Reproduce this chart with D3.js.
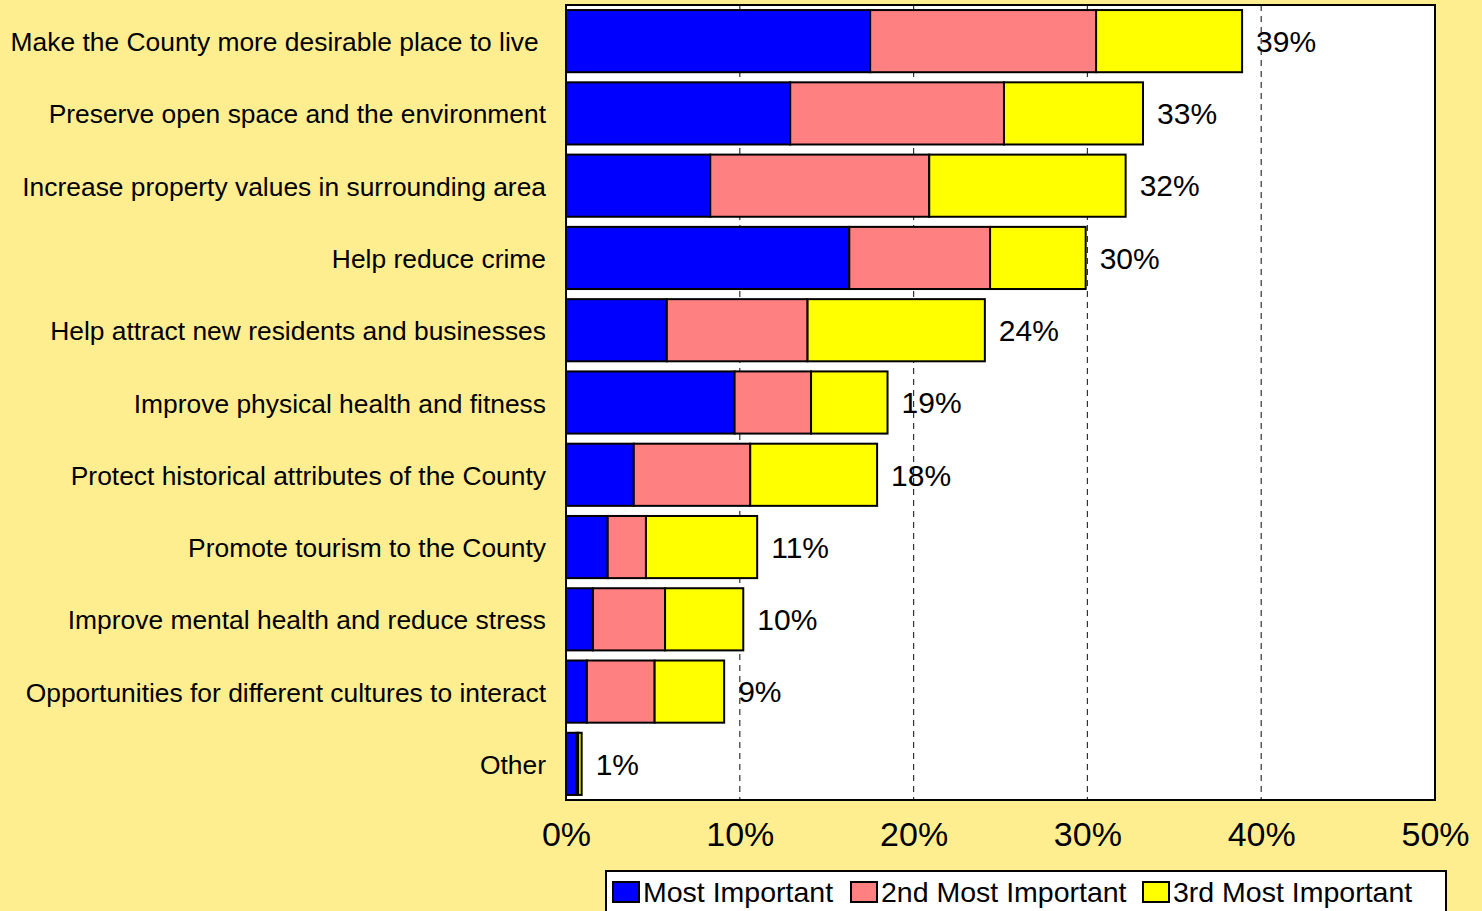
<!DOCTYPE html>
<html><head><meta charset="utf-8">
<script src="https://cdn.jsdelivr.net/npm/d3@7"></script>
<style>
html,body{margin:0;padding:0;background:#FFEE90;}
svg{display:block;font-family:Arial,"Liberation Sans",sans-serif;}
</style></head>
<body>
<svg id="chart" width="1482" height="911"></svg>
<script>
const categories = [
  "Make the County more desirable place to live ",
  "Preserve open space and the environment",
  "Increase property values in surrounding area",
  "Help reduce crime",
  "Help attract new residents and businesses",
  "Improve physical health and fitness",
  "Protect historical attributes of the County",
  "Promote tourism to the County",
  "Improve mental health and reduce stress",
  "Opportunities for different cultures to interact",
  "Other"
];
const mostImportant   = [17.5, 12.9, 8.3, 16.3, 5.8, 9.7, 3.9, 2.4, 1.55, 1.2, 0.6];
const secondImportant = [13.0, 12.3, 12.6, 8.1, 8.1, 4.4, 6.7, 2.2, 4.15, 3.9, 0.1];
const thirdImportant  = [8.4, 8.0, 11.3, 5.5, 10.2, 4.4, 7.3, 6.4, 4.5, 4.0, 0.2];
const totalLabels = ["39%","33%","32%","30%","24%","19%","18%","11%","10%","9%","1%"];
const seriesNames = ["Most Important","2nd Most Important","3rd Most Important"];
const seriesColors = ["#0000FF","#FF8080","#FFFF00"];
const xTicks = [0,10,20,30,40,50];

const svg = d3.select("#chart");
const plot = {left:566, right:1435, top:5, bottom:800};

const x = d3.scaleLinear().domain([0,50]).range([plot.left, plot.right]);
const y = d3.scaleBand().domain(categories).range([plot.top, plot.bottom])
  .paddingInner(0.14).paddingOuter(0.07);
const color = d3.scaleOrdinal().domain(seriesNames).range(seriesColors);

// plot background
svg.append("rect").attr("x",plot.left).attr("y",plot.top)
  .attr("width",plot.right-plot.left).attr("height",plot.bottom-plot.top)
  .attr("fill","#fff");

// gridlines
svg.append("g").selectAll("line").data(xTicks.filter(t=>t>0&&t<50)).join("line")
  .attr("x1",d=>x(d)).attr("x2",d=>x(d))
  .attr("y1",plot.top).attr("y2",plot.bottom)
  .attr("stroke","#333").attr("stroke-width",1.2).attr("stroke-dasharray","6,5");

// stacked data
const rows = categories.map((c,i)=>({cat:c, "Most Important":mostImportant[i],
  "2nd Most Important":secondImportant[i], "3rd Most Important":thirdImportant[i]}));
const stack = d3.stack().keys(seriesNames)(rows);

svg.append("g").selectAll("g").data(stack).join("g")
  .attr("fill",d=>color(d.key))
  .selectAll("rect").data(d=>d).join("rect")
  .attr("x",d=>x(d[0])).attr("width",d=>x(d[1])-x(d[0]))
  .attr("y",d=>y(d.data.cat)).attr("height",y.bandwidth())
  .attr("stroke","#000").attr("stroke-width",2);

// total labels
svg.append("g").selectAll("text").data(categories).join("text")
  .attr("x",(d,i)=>x(mostImportant[i]+secondImportant[i]+thirdImportant[i])+14)
  .attr("y",d=>y(d)+y.bandwidth()/2)
  .attr("dy","0.36em")
  .attr("font-size",30).attr("fill","#000")
  .text((d,i)=>totalLabels[i]);

// plot border
svg.append("rect").attr("x",plot.left).attr("y",plot.top)
  .attr("width",plot.right-plot.left).attr("height",plot.bottom-plot.top)
  .attr("fill","none").attr("stroke","#000").attr("stroke-width",2);

// y axis labels
const yAxis = d3.axisLeft(y).tickSize(0).tickPadding(20);
const yg = svg.append("g").attr("transform",`translate(${plot.left},0)`).call(yAxis);
yg.select(".domain").remove();
yg.selectAll("text").attr("font-size",26.4).attr("font-family","Arial,'Liberation Sans',sans-serif")
  .attr("fill","#000").attr("dy","0.38em").style("white-space","pre");

// x axis labels
const xAxis = d3.axisBottom(x).tickValues(xTicks).tickFormat(d=>d+"%").tickSize(0).tickPadding(22);
const xg = svg.append("g").attr("transform",`translate(0,${plot.bottom})`).call(xAxis);
xg.select(".domain").remove();
xg.selectAll("text").attr("font-size",34).attr("font-family","Arial,'Liberation Sans',sans-serif").attr("fill","#000");

// legend
const leg = svg.append("g");
leg.append("rect").attr("x",606).attr("y",871).attr("width",840).attr("height",60)
  .attr("fill","#fff").attr("stroke","#000").attr("stroke-width",2);
const legX = [613, 851, 1143];
const items = leg.selectAll("g.item").data(seriesNames).join("g").attr("class","item")
  .attr("transform",(d,i)=>`translate(${legX[i]},882)`);
items.append("rect").attr("width",26).attr("height",20)
  .attr("fill",d=>color(d)).attr("stroke","#000").attr("stroke-width",2);
items.append("text").attr("x",30).attr("y",20).attr("font-size",28.5).attr("fill","#000").text(d=>d);
</script>
</body></html>
